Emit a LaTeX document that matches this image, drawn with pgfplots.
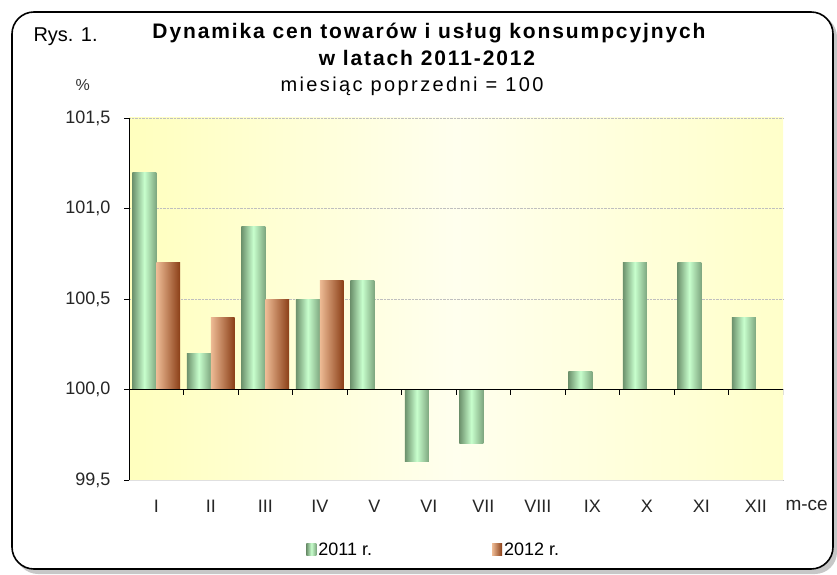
\documentclass[border=0pt]{standalone}
\usepackage{fontspec}
\setmainfont{Liberation Sans}
\newfontfamily\spaced[LetterSpace=9]{Liberation Sans}
\newfontfamily\spacedsub[LetterSpace=12]{Liberation Sans}
\usepackage{pgfplots}
\usepackage{pgfplotstable}
\pgfplotsset{compat=1.18}

\definecolor{gdark}{RGB}{108,145,108}
\definecolor{glight}{RGB}{200,255,205}
\definecolor{blight}{RGB}{238,188,150}
\definecolor{bdark}{RGB}{138,62,22}
\definecolor{bgyel}{RGB}{255,255,190}
\definecolor{bgwhite}{RGB}{255,255,238}

\tikzset{
  gbar/.style={draw=none, left color=gdark, right color=gdark!80!glight, middle color=glight},
  bbar/.style={draw=none, left color=blight, right color=bdark},
}

% month index, index value (previous month = 100)
\pgfplotstableread{
x y
0 101.2
1 100.2
2 100.9
3 100.5
4 100.6
5 99.6
6 99.7
7 100.0
8 100.1
9 100.7
10 100.7
11 100.4
}\rokA
\pgfplotstableread{
x y
0 100.7
1 100.4
2 100.5
3 100.6
}\rokB

\begin{document}
\begin{tikzpicture}[x=1pt,y=1pt]
\useasboundingbox (0,0) rectangle (837,574);
% frame with shadow
\fill[black!22, rounded corners=22pt] (16,0) rectangle (837,559);
\fill[white, draw=black, line width=1.6pt, rounded corners=22pt] (12,5) rectangle (833,562);

\begin{axis}[
  at={(129pt,94pt)}, anchor=south west,
  scale only axis, width=654pt, height=362pt,
  xmin=-0.5, xmax=11.5, ymin=-0.5, ymax=1.5,
  axis background/.style={left color=bgyel, right color=bgyel!75!bgwhite, middle color=bgwhite},
  axis x line*=bottom, axis y line*=left,
  x axis line style={draw=black!12, line width=1pt},
  y axis line style={black, line width=0.9pt},
  xtick={0,...,11},
  xticklabels={I,II,III,IV,V,VI,VII,VIII,IX,X,XI,XII},
  ytick={-0.5,0,0.5,1,1.5},
  yticklabels={{99,5},{100,0},{100,5},{101,0},{101,5}},
  tick align=outside, major tick length=5pt,
  xtick style={draw=none},
  ytick style={black, line width=0.9pt},
  tick label style={font=\fontsize{18}{20}\selectfont, text=black!85},
  yticklabel style={xshift=-10pt},
  xticklabel style={yshift=-12pt},
  ymajorgrids, grid style={black!25, densely dotted, line width=0.8pt},
  legend columns=2,
  legend style={at={(0.466,-0.193)}, anchor=center, draw=none, fill=none,
    font=\fontsize{18}{20}\selectfont,
    /tikz/every even column/.append style={column sep=118pt}},
  legend image code/.code={\path[#1] (0pt,-6pt) rectangle (10pt,6pt);},
]
\addlegendimage{gbar}
\addlegendentry{2011 r.}
\addlegendimage{bbar}
\addlegendentry{2012 r.}
% one plot per bar so that every bar gets its own shading
\pgfplotsinvokeforeach{0,1,2,3,4,5,6,7,8,9,10,11}{
  \addplot[ybar, bar width=0.44, bar shift=-0.22, gbar, forget plot,
    restrict x to domain=#1:#1]
    table[x=x, y expr=\thisrow{y}-100] {\rokA};
}
\pgfplotsinvokeforeach{0,1,2,3}{
  \addplot[ybar, bar width=0.44, bar shift=0.22, bbar, forget plot,
    restrict x to domain=#1:#1]
    table[x=x, y expr=\thisrow{y}-100] {\rokB};
}
\draw[black, line width=1pt] (axis cs:-0.5,0) -- (axis cs:11.5,0);
\pgfplotsinvokeforeach{0.5,1.5,2.5,3.5,4.5,5.5,6.5,7.5,8.5,9.5,10.5,11.5}{
  \draw[black, line width=0.9pt] (axis cs:#1,0) -- ([yshift=-5pt]axis cs:#1,0);
}
\end{axis}

\node[font=\fontsize{19}{20}\selectfont, anchor=west, text=black!85] at (782,69) {m-ce};
\node[font=\fontsize{20}{22}\selectfont, anchor=west] at (30,537) {Rys. 1.};
\node[font=\fontsize{16}{18}\selectfont, anchor=west, text=black!80] at (72,489) {\%};
\node[font=\spaced\bfseries\fontsize{21}{24}\selectfont] at (429,541) {Dynamika cen towarów i usług konsumpcyjnych};
\node[font=\spaced\bfseries\fontsize{21}{24}\selectfont] at (427,516) {w latach 2011-2012};
\node[font=\spacedsub\fontsize{20}{22}\selectfont] at (412,488) {miesiąc poprzedni = 100};
\end{tikzpicture}
\end{document}
